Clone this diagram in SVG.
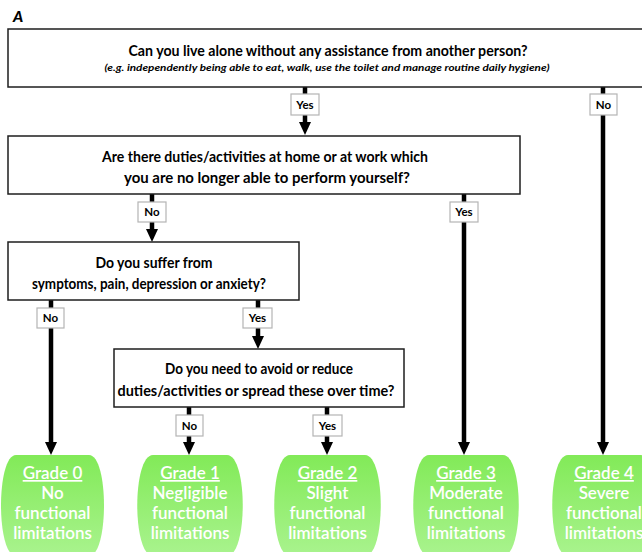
<svg xmlns="http://www.w3.org/2000/svg" width="642" height="552" viewBox="0 0 642 552">
<style>
.q{fill:#fff;stroke:#1e1e1e;stroke-width:1.5}
.qt{font-family:Lato,"Liberation Sans",sans-serif;font-weight:bold;font-size:15px;fill:#000;text-anchor:middle}
.qi{font-family:Lato,"Liberation Sans",sans-serif;font-weight:bold;font-style:italic;font-size:9.5px;fill:#000;text-anchor:middle}
.lb{fill:#fff;stroke:#b4b4b4;stroke-width:1.2}
.lt{font-family:Lato,"Liberation Sans",sans-serif;font-weight:bold;font-size:11.5px;fill:#000;text-anchor:middle}
.c{stroke:#000;stroke-width:4.5;fill:none;marker-end:url(#ah)}
.g{fill:url(#gg)}
.gt{font-family:Lato,"Liberation Sans",sans-serif;font-weight:600;font-size:17px;fill:#fff;text-anchor:middle}
.gh{text-decoration:underline}
</style>
<defs>
<linearGradient id="gg" x1="0" y1="0" x2="0" y2="1">
<stop offset="0" stop-color="#82ea58"/>
<stop offset="1" stop-color="#a9f38e"/>
</linearGradient>
<marker id="ah" markerUnits="userSpaceOnUse" markerWidth="14" markerHeight="14" refX="2" refY="7" orient="auto" overflow="visible">
<path d="M0,1 L13,7 L0,13 Z" fill="#000"/>
</marker>
</defs>
<rect width="642" height="552" fill="#fff"/>
<text x="13" y="22" font-family="Lato,'Liberation Sans',sans-serif" font-weight="900" font-style="italic" font-size="15.5" fill="#000">A</text>

<g id="connectors">
<path class="c" d="M305,87 V124"/>
<path class="c" d="M603,87 V444"/>
<path class="c" d="M152,194 V231"/>
<path class="c" d="M464,194 V444"/>
<path class="c" d="M51,300 V444"/>
<path class="c" d="M258,300 V338"/>
<path class="c" d="M189,407 V444"/>
<path class="c" d="M327,407 V444"/>
<rect class="lb" x="291" y="94" width="28" height="21"/><text class="lt" x="305" y="108.5">Yes</text>
<rect class="lb" x="590" y="94" width="27" height="21"/><text class="lt" x="603.5" y="108.5">No</text>
<rect class="lb" x="138" y="202" width="28" height="20"/><text class="lt" x="152" y="216">No</text>
<rect class="lb" x="450" y="202" width="28" height="20"/><text class="lt" x="464" y="216">Yes</text>
<rect class="lb" x="37" y="308" width="27" height="20"/><text class="lt" x="50.5" y="322">No</text>
<rect class="lb" x="243" y="308" width="29" height="20"/><text class="lt" x="257.5" y="322">Yes</text>
<rect class="lb" x="176" y="415" width="27" height="21"/><text class="lt" x="189.5" y="429.5">No</text>
<rect class="lb" x="313" y="415" width="29" height="21"/><text class="lt" x="327.5" y="429.5">Yes</text>
</g>

<g id="q1">
<rect class="q" x="8" y="29" width="642" height="58"/>
<text class="qt" x="328" y="56" textLength="399" lengthAdjust="spacingAndGlyphs">Can you live alone without any assistance from another person?</text>
<text class="qi" x="327" y="71" textLength="445" lengthAdjust="spacingAndGlyphs">(e.g. independently being able to eat, walk, use the toilet and manage routine daily hygiene)</text>
</g>
<g id="q2">
<rect class="q" x="8" y="136" width="512" height="58"/>
<text class="qt" x="265" y="162" textLength="326" lengthAdjust="spacingAndGlyphs">Are there duties/activities at home or at work which</text>
<text class="qt" x="267" y="183" textLength="286" lengthAdjust="spacingAndGlyphs">you are no longer able to perform yourself?</text>
</g>
<g id="q3">
<rect class="q" x="8" y="242" width="291" height="58"/>
<text class="qt" x="154" y="268" textLength="117" lengthAdjust="spacingAndGlyphs">Do you suffer from</text>
<text class="qt" x="149" y="289" textLength="234" lengthAdjust="spacingAndGlyphs">symptoms, pain, depression or anxiety?</text>
</g>
<g id="q4">
<rect class="q" x="114" y="349" width="290" height="58"/>
<text class="qt" x="259" y="374" textLength="188" lengthAdjust="spacingAndGlyphs">Do you need to avoid or reduce</text>
<text class="qt" x="256" y="396" textLength="277" lengthAdjust="spacingAndGlyphs">duties/activities or spread these over time?</text>
</g>

<g id="grade0">
<path class="g" d="M16,455 H89 C109,455 109,556 89,556 H16 C-4,556 -4,455 16,455 Z"/>
<text class="gt gh" x="52.5" y="479">Grade 0</text>
<text class="gt" x="52.5" y="499">No</text>
<text class="gt" x="52.5" y="519">functional</text>
<text class="gt" x="52.5" y="539">limitations</text>
</g>
<g id="grade1">
<path class="g" d="M153,455 H227 C248,455 248,556 227,556 H153 C132,556 132,455 153,455 Z"/>
<text class="gt gh" x="190" y="479">Grade 1</text>
<text class="gt" x="190" y="499">Negligible</text>
<text class="gt" x="190" y="519">functional</text>
<text class="gt" x="190" y="539">limitations</text>
</g>
<g id="grade2">
<path class="g" d="M290,455 H365 C386,455 386,556 365,556 H290 C269,556 269,455 290,455 Z"/>
<text class="gt gh" x="327.5" y="479">Grade 2</text>
<text class="gt" x="327.5" y="499">Slight</text>
<text class="gt" x="327.5" y="519">functional</text>
<text class="gt" x="327.5" y="539">limitations</text>
</g>
<g id="grade3">
<path class="g" d="M429,455 H503 C524,455 524,556 503,556 H429 C408,556 408,455 429,455 Z"/>
<text class="gt gh" x="466" y="479">Grade 3</text>
<text class="gt" x="466" y="499">Moderate</text>
<text class="gt" x="466" y="519">functional</text>
<text class="gt" x="466" y="539">limitations</text>
</g>
<g id="grade4">
<path class="g" d="M568,455 H640 C661,455 661,556 640,556 H568 C547,556 547,455 568,455 Z"/>
<text class="gt gh" x="604" y="479">Grade 4</text>
<text class="gt" x="604" y="499">Severe</text>
<text class="gt" x="604" y="519">functional</text>
<text class="gt" x="604" y="539">limitations</text>
</g>
</svg>
